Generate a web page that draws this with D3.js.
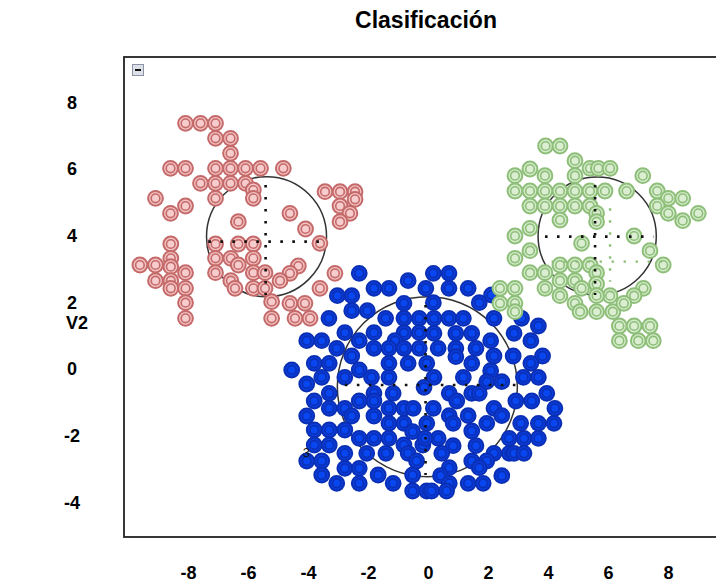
<!DOCTYPE html>
<html>
<head>
<meta charset="utf-8">
<script src="https://cdn.jsdelivr.net/npm/d3@7"></script>
<style>
  body { margin:0; background:#fff; }
  svg { display:block; font-family:"Liberation Sans", Arial, sans-serif; }
</style>
</head>
<body>
<div id="chart"></div>
<script>
var xTicks = [-8, -6, -4, -2, 0, 2, 4, 6, 8];
var yTicks = [8, 6, 4, 2, 0, -2, -4];

// cluster 1 (red)
var redPoints = [
  [-8.08,7.37],[-7.58,7.37],[-7.08,7.37],
  [-7.08,6.92],[-6.58,6.92],
  [-6.58,6.47],
  [-8.58,6.02],[-8.08,6.02],[-7.08,6.02],[-6.58,6.02],[-6.08,6.02],[-5.58,6.02],[-4.82,6.02],
  [-7.58,5.57],[-7.08,5.57],[-6.58,5.57],[-6.08,5.57],
  [-5.82,5.37],[-5.82,5.12],
  [-9.08,5.12],[-7.08,5.12],
  [-8.08,4.89],
  [-8.58,4.67],[-4.60,4.67],
  [-6.32,4.42],
  [-4.08,4.20],
  [-8.57,3.75],[-7.08,3.75],[-6.32,3.75],[-5.82,3.75],[-3.60,3.77],
  [-8.57,3.32],
  [-9.60,3.12],[-9.08,3.12],[-8.57,3.07],[-8.08,2.89],
  [-7.08,3.32],[-6.57,3.32],[-5.82,3.32],[-6.32,3.12],[-4.32,3.09],
  [-7.08,2.89],[-5.82,2.89],[-5.43,2.89],[-4.60,2.87],[-3.10,2.87],
  [-9.08,2.65],[-8.57,2.65],[-8.57,2.42],[-8.08,2.42],
  [-6.57,2.65],[-6.43,2.42],[-5.82,2.42],[-5.43,2.42],[-4.93,2.65],[-3.60,2.42],
  [-8.08,1.99],[-5.21,2.02],[-4.60,1.97],[-4.10,1.97],
  [-8.08,1.52],[-5.21,1.52],[-4.43,1.52],[-3.93,1.52],
  [-3.43,5.32],[-2.93,5.32],[-2.43,5.32],[-2.43,5.09],[-2.93,4.89],[-2.60,4.67],[-2.93,4.42]
];

// cluster 2 (green)
var greenPoints = [
  [3.92,6.69],[4.40,6.69],
  [4.90,6.25],
  [3.40,6.00],
  [2.90,5.80],[3.90,5.80],[4.90,5.80],
  [5.40,6.02],[5.68,6.02],[6.07,6.02],
  [7.16,5.80],
  [2.90,5.34],[3.40,5.34],[3.90,5.34],[4.40,5.34],[4.90,5.34],[5.40,5.34],[5.90,5.34],
  [6.62,5.34],[7.64,5.34],
  [8.01,5.12],[8.49,5.12],
  [3.40,4.89],[3.90,4.89],[4.40,4.89],[4.90,4.89],[5.40,4.89],
  [7.64,4.89],
  [8.01,4.67],[9.01,4.67],
  [4.40,4.47],
  [5.62,4.67],[5.62,4.42],
  [8.49,4.45],
  [3.40,4.22],
  [2.90,3.99],
  [5.12,3.77],
  [6.87,3.99],
  [3.40,3.55],
  [7.40,3.55],
  [2.90,3.32],
  [4.40,3.12],
  [3.40,2.89],[3.90,2.89],
  [4.90,3.12],[5.40,3.12],
  [7.84,3.12],
  [4.40,2.65],
  [4.90,2.65],
  [5.62,2.89],[5.62,2.55],
  [3.90,2.42],
  [4.40,2.20],
  [5.12,2.42],
  [7.18,2.42],[6.87,2.20],
  [6.07,2.20],[5.62,2.20],
  [4.90,1.97],[5.07,1.72],[5.62,1.72],[6.16,1.72],[6.53,1.97],
  [6.38,1.29],[6.87,1.29],[7.40,1.29],
  [6.38,0.85],[7.01,0.85],[7.51,0.85],
  [2.40,2.42],[2.90,2.42],[2.40,1.97],[2.90,1.97],[2.90,1.72]
];

// cluster 3 (blue)
var bluePoints = [
  [-2.29,2.87],[-0.66,2.65],[-1.80,2.42],[-1.30,2.42],
  [-3.02,2.20],[-2.54,2.20],[-0.80,1.97],
  [-2.54,1.75],[-2.02,1.75],[-3.30,1.52],[-1.41,1.52],[-0.80,1.52],[-0.29,1.52],
  [-2.77,1.09],[-1.80,1.09],[-0.80,1.09],[-0.29,1.09],
  [-4.04,0.85],[-3.54,0.85],[-2.29,0.85],[-1.10,0.85],
  [-3.04,0.62],[-1.80,0.62],[-1.30,0.62],[-0.80,0.62],[-0.29,0.62],
  [-2.54,0.39],[-3.79,0.17],[-3.29,0.17],[-1.30,0.17],[-0.66,0.17],
  [-4.54,-0.03],[-2.29,-0.03],[-3.54,-0.25],[-2.77,-0.25],[-1.88,-0.25],[-1.30,-0.25],
  [-4.04,-0.45],
  [0.18,2.87],[0.70,2.87],[-0.07,2.42],[0.70,2.42],[1.34,2.42],[2.12,2.22],
  [0.18,1.99],[1.71,1.99],[0.20,1.52],[0.70,1.52],[1.18,1.52],[2.20,1.52],[3.12,1.52],
  [3.68,1.29],[0.20,1.07],[0.93,1.07],[1.46,1.07],[2.87,1.07],[2.09,0.85],[3.43,0.85],
  [0.34,0.62],[0.93,0.62],[1.60,0.62],[2.20,0.39],[2.84,0.39],[3.82,0.39],[0.93,0.37],
  [-0.04,0.17],[1.46,0.17],[3.43,0.17],[2.09,-0.05],[0.20,-0.25],[1.18,-0.25],
  [3.18,-0.25],[3.68,-0.25],[1.96,-0.38],[2.46,-0.38],
  [-3.29,-0.73],[-1.80,-0.73],[-1.16,-0.73],[-0.13,-0.55],[-3.79,-0.96],[-2.29,-0.96],
  [-1.80,-0.96],[-3.29,-1.18],[-2.77,-1.18],[-1.30,-1.18],[-0.80,-1.18],[-0.49,-1.18],
  [-4.04,-1.41],[-2.54,-1.41],[-1.80,-1.41],[-1.30,-1.63],[-0.80,-1.63],
  [-3.79,-1.83],[-3.29,-1.83],[-2.77,-1.83],[-0.51,-1.88],
  [-2.29,-2.08],[-1.80,-2.08],[-1.30,-2.08],[-3.79,-2.28],[-3.29,-2.28],[-0.80,-2.28],[-0.17,-2.28],
  [-2.77,-2.53],[-2.04,-2.53],[-1.40,-2.53],[-0.66,-2.53],[-0.38,-2.76],
  [-4.04,-2.76],[-3.54,-2.76],[-2.77,-2.98],[-2.29,-2.98],[-3.54,-3.18],[-1.66,-3.18],[-0.51,-3.18],
  [-3.04,-3.43],[-2.29,-3.43],[-1.16,-3.43],[-0.51,-3.66],[-0.04,-3.66],
  [0.71,-0.73],[1.46,-0.73],[1.71,-0.73],[3.96,-0.73],[0.96,-0.96],[2.93,-0.96],[3.46,-0.96],
  [0.18,-1.18],[2.20,-1.18],[4.23,-1.18],[0.71,-1.40],[1.34,-1.40],[2.46,-1.40],
  [-0.04,-1.63],[0.84,-1.63],[1.96,-1.63],[3.09,-1.63],[3.68,-1.63],[4.20,-1.63],
  [1.46,-1.86],[0.34,-2.08],[-0.10,-2.08],[2.71,-2.08],[3.20,-2.08],[3.68,-2.08],
  [0.84,-2.30],[1.60,-2.30],[0.46,-2.53],[2.20,-2.53],[2.71,-2.53],[2.87,-2.53],[3.20,-2.53],
  [1.46,-2.76],[1.96,-2.76],[0.71,-2.96],[1.71,-2.96],[0.42,-3.20],[2.46,-3.20],
  [0.71,-3.43],[1.34,-3.43],[1.84,-3.43],[0.12,-3.66],[0.62,-3.66]
];

// cluster circles: center x, center y, radius (x units)
var circleX = [-5.38, -0.02, 5.64];
var circleY = [3.97, -0.53, 3.99];
var circleR = [2.0, 3.0, 1.97];

// dotted crosses: horizontal at crossY from crossXFrom to crossXTo, vertical at crossX
var crossX = [-5.41, -0.08, 5.57];
var crossY = [3.82, -0.48, 3.97];
var crossXFrom = [-7.32, -2.77, 3.90];
var crossXTo = [-3.43, 2.96, 7.51];
var crossYFrom = [5.52, 1.92, 5.52];
var crossYTo = [2.22, -3.18, 2.22];

// second (light) cross of the green cluster
var greenCross = { x: 6.07, y: 3.22, x0: 4.12, x1: 7.96, y0: 4.82, y1: 2.62 };

var W = 716, H = 583;
var svg = d3.select('#chart').append('svg').attr('width', W).attr('height', H);

var x = d3.scaleLinear().domain([-10.13, 10.5]).range([124, 743]);
var y = d3.scaleLinear().domain([-5.04, 9.36]).range([537, 57]);
var fmt = function(d){ return String(d); };

svg.append('text')
  .attr('x', 426).attr('y', 28)
  .attr('text-anchor', 'middle')
  .attr('font-size', 23).attr('font-weight', 'bold')
  .text('Clasificación');

// frame
svg.append('rect')
  .attr('x', x(-10.13)).attr('y', y(9.36))
  .attr('width', x(10.5) - x(-10.13)).attr('height', y(-5.04) - y(9.36))
  .attr('fill', 'none').attr('stroke', '#222').attr('stroke-width', 1.8);

// little collapse button
svg.append('rect').attr('x', 132.5).attr('y', 64.5).attr('width', 11).attr('height', 11)
  .attr('fill', '#dde0e8').attr('stroke', '#8a92a4').attr('stroke-width', 1);
svg.append('line').attr('x1', 135).attr('x2', 141).attr('y1', 70).attr('y2', 70)
  .attr('stroke', '#111').attr('stroke-width', 2);

var xAxis = svg.append('g').attr('transform', 'translate(0,566)')
  .call(d3.axisBottom(x).tickValues(xTicks).tickFormat(fmt).tickSize(0).tickPadding(0));
xAxis.select('.domain').remove();
xAxis.attr('font-size', 18).attr('font-weight', 'bold').attr('font-family', null);

var yAxis = svg.append('g').attr('transform', 'translate(72,0)')
  .call(d3.axisLeft(y).tickValues(yTicks).tickFormat(fmt).tickSize(0).tickPadding(0));
yAxis.select('.domain').remove();
yAxis.attr('font-size', 18).attr('font-weight', 'bold').attr('font-family', null)
  .attr('text-anchor', 'middle');
yAxis.selectAll('text').attr('x', 0);

svg.append('text')
  .attr('x', 77).attr('y', 329)
  .attr('text-anchor', 'middle')
  .attr('font-size', 18).attr('font-weight', 'bold')
  .text('V2');

// circles behind points
var pxR = function(r){ return x(r) - x(0); };
svg.append('g').selectAll('circle').data(circleX).enter().append('circle')
  .attr('cx', function(d){ return x(d); })
  .attr('cy', function(d, i){ return y(circleY[i]); })
  .attr('r', function(d, i){ return pxR(circleR[i]); })
  .attr('fill', 'none').attr('stroke', '#333').attr('stroke-width', 1.5);

function drawPoints(data, outerFill, ringColor, innerFill){
  var g = svg.append('g');
  var p = g.selectAll('g').data(data).enter().append('g')
    .attr('transform', function(d){ return 'translate(' + x(d[0]) + ',' + y(d[1]) + ')'; });
  p.append('circle').attr('r', 7.4).attr('fill', outerFill)
    .attr('stroke', ringColor).attr('stroke-width', 2);
  p.append('circle').attr('r', 4.3).attr('fill', innerFill)
    .attr('stroke', ringColor).attr('stroke-width', 1.6);
}

drawPoints(bluePoints, '#0a3ddc', '#0b2fb4', '#0846f0');
drawPoints(redPoints, '#f4c3c3', '#c56a6a', '#f7cccc');
drawPoints(greenPoints, '#d6eacc', '#8dbf79', '#dbeed2');

// dotted crosses
var dots = svg.append('g').attr('stroke', '#111').attr('stroke-width', 2.6)
  .attr('stroke-dasharray', '2.6,9.4');
dots.selectAll('.h').data(crossY).enter().append('line')
  .attr('x1', function(d, i){ return x(crossXFrom[i]); })
  .attr('x2', function(d, i){ return x(crossXTo[i]); })
  .attr('y1', function(d){ return y(d); })
  .attr('y2', function(d){ return y(d); });
dots.selectAll('.v').data(crossX).enter().append('line')
  .attr('x1', function(d){ return x(d); })
  .attr('x2', function(d){ return x(d); })
  .attr('y1', function(d, i){ return y(crossYFrom[i]); })
  .attr('y2', function(d, i){ return y(crossYTo[i]); });

var gc = svg.append('g').attr('stroke', '#8dbf79').attr('stroke-width', 2.4)
  .attr('stroke-dasharray', '2.4,9.6');
gc.append('line').attr('x1', x(greenCross.x0)).attr('x2', x(greenCross.x1))
  .attr('y1', y(greenCross.y)).attr('y2', y(greenCross.y));
gc.append('line').attr('x1', x(greenCross.x)).attr('x2', x(greenCross.x))
  .attr('y1', y(greenCross.y0)).attr('y2', y(greenCross.y1));

// stray label inside blue cluster
svg.append('text')
  .attr('x', x(-4.05)).attr('y', y(-2.64))
  .attr('text-anchor', 'middle').attr('font-size', 13)
  .attr('fill', '#111')
  .text('3');
</script>
</body>
</html>
